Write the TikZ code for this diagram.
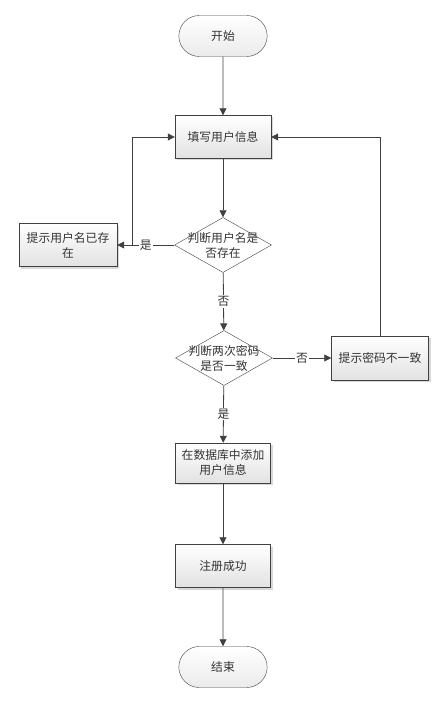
\documentclass[tikz,border=0pt]{standalone}
\usepackage{fontspec}
\newfontfamily\cjk{Noto Sans CJK SC}
\usepackage{xcolor}
\definecolor{flow-line}{HTML}{404040}
\definecolor{flow-text}{HTML}{333333}
\definecolor{flow-shade}{HTML}{E2E2E2}
\usetikzlibrary{shapes.geometric, shapes.misc, arrows.meta, shadows}

\tikzset{
    flowtext/.style={font=\cjk\fontsize{11.8}{15}\selectfont, text=flow-text, align=center},
    terminal/.style={flowtext, rounded rectangle, draw=flow-line, thin,
        top color=white, bottom color=flow-shade!70, minimum width=95pt, minimum height=41pt},
    process/.style={flowtext, rectangle, draw=flow-line, thin,
        top color=white, bottom color=flow-shade,
        drop shadow={shadow xshift=2pt, shadow yshift=-2pt, fill=gray!60},
        minimum width=96pt, minimum height=43pt},
    decision/.style={diamond, draw=flow-line, thin, fill=white, inner sep=0pt,
        minimum width=97pt, minimum height=55pt},
    flow/.style={draw=flow-line, thick, -{Triangle[length=7pt, width=7pt]}},
    branch/.style={flowtext, fill=white, inner sep=1pt},
}

\begin{document}
\begin{tikzpicture}[x=1pt, y=-1pt]

    % Page
    \useasboundingbox (0, 0) rectangle (445, 703);

    % Main column
    \node[terminal] (start) at (223, 36) {开始};
    \node[process] (fill) at (223, 137) {填写用户信息};
    \node[decision, label={[flowtext]center:判断用户名是\\否存在}] (checkname) at (223, 245) {};
    \node[decision, label={[flowtext]center:判断两次密码\\是否一致}] (checkpwd) at (224, 358) {};
    \node[process, minimum width=95pt, minimum height=40pt] (save) at (223, 463) {在数据库中添加\\用户信息};
    \node[process, minimum width=95pt] (done) at (223, 566) {注册成功};
    \node[terminal] (stop) at (223, 667) {结束};

    % Side boxes
    \node[process, minimum width=98pt] (nameexists) at (68, 245) {提示用户名已存\\在};
    \node[process, minimum width=97pt, minimum height=44pt] (pwdwrong) at (380, 358) {提示密码不一致};
    \coordinate (loopleft) at (132, 245);

    % Connectors
    \draw[flow] (start) -- (fill);
    \draw[flow] (fill) -- (checkname);
    \draw[flow] (checkname.west) -- node[branch] {是} (nameexists.east);
    \draw[flow] (loopleft) |- (fill.west);
    \draw[flow] (checkname) -- node[branch] {否} (checkpwd);
    \draw[flow] (checkpwd.east) -- node[branch] {否} (pwdwrong.west);
    \draw[flow] (pwdwrong.north) |- (fill.east);
    \draw[flow] (checkpwd) -- node[branch] {是} (save);
    \draw[flow] (save) -- (done);
    \draw[flow] (done) -- (stop);

\end{tikzpicture}
\end{document}
